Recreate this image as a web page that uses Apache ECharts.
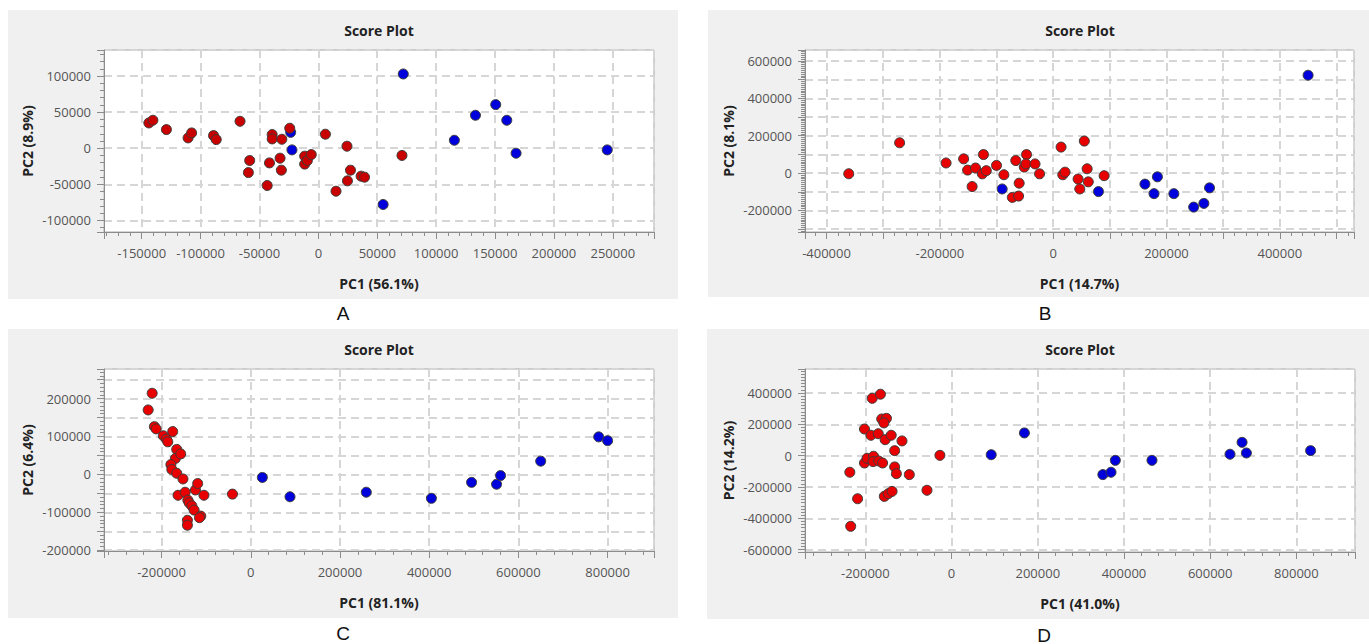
<!DOCTYPE html>
<html>
<head>
<meta charset="utf-8">
<script src="https://cdn.jsdelivr.net/npm/echarts@6/dist/echarts.min.js"></script>
<style>
  html, body { margin: 0; padding: 0; background: #ffffff; }
  #chart { width: 1369px; height: 644px; }
</style>
</head>
<body>
<div id="chart"></div>
<script>
// ---- text ----
const panelLetters = ['A', 'B', 'C', 'D'];
const plotTitle = 'Score Plot';
const pc1Names = ['PC1 (56.1%)', 'PC1 (14.7%)', 'PC1 (81.1%)', 'PC1 (41.0%)'];
const pc2Names = ['PC2 (8.9%)', 'PC2 (8.1%)', 'PC2 (6.4%)', 'PC2 (14.2%)'];

// ---- scores [PC1, PC2] ----
const scoresA_red = [
  [-143900, 35000], [-140500, 38700], [-129000, 25800], [-110600, 14300], [-107600, 21200],
  [-89000, 17500], [-86700, 12000], [-66500, 37300], [-58300, -17000], [-59400, -33700],
  [-43400, -51600], [-41500, -20300], [-39200, 18900], [-39200, 12900], [-32500, -13800],
  [-31400, -30400], [-31000, 12400], [-24300, 27700], [-11600, -11000], [-11600, -22000],
  [-9300, -17000], [-6000, -8800], [6000, 19400], [24300, 2800], [15000, -59500],
  [24700, -45200], [27300, -30400], [36300, -38700], [39200, -40100], [71000, -10000]
];
const scoresA_blue = [
  [-23500, 22000], [-22400, -2300], [72100, 102800], [55000, -77900], [115500, 11000],
  [133400, 45600], [150600, 60400], [160000, 38700], [167900, -6900], [245300, -2300]
];

const scoresB_red = [
  [-360800, -3600], [-271000, 162000], [-189000, 54000], [-158000, 76000], [-151000, 16000],
  [-137000, 27000], [-143000, -72000], [-123000, 99000], [-125000, -4000], [-118000, 13000],
  [-100000, 41000], [-87000, -9000], [-66000, 67000], [-72000, -130000], [-61000, -123000],
  [-60000, -54000], [-47000, 99000], [-51000, 32000], [-48000, 49000], [-32000, 49000],
  [-24000, -4000], [14000, 139000], [55000, 171000], [17000, -9000], [21000, 5000],
  [44000, -32000], [47000, -85000], [60000, 23000], [62000, -47000], [90000, -14000]
];
const scoresB_blue = [
  [-90000, -85000], [80000, -99000], [162000, -59000], [178000, -110000], [184000, -20000],
  [213000, -110000], [248000, -182000], [266000, -162000], [276000, -79000], [450000, 523000]
];

const scoresC_red = [
  [-221000, 214000], [-230000, 170000], [-216000, 126000], [-212000, 120000], [-196000, 102000],
  [-189000, 93000], [-186000, 86000], [-175000, 113000], [-166000, 66000], [-169000, 42000],
  [-157000, 54000], [-179000, 26000], [-177000, 13000], [-166000, 3000], [-152000, -12000],
  [-163000, -55000], [-147000, -47000], [-141000, -68000], [-138000, -75000], [-132000, -83000],
  [-127000, -94000], [-124000, -41000], [-119000, -24000], [-112000, -110000], [-115000, -114000],
  [-142000, -121000], [-142000, -134000], [-105000, -55000], [-41000, -52000]
];
const scoresC_blue = [
  [26000, -8000], [88000, -59000], [259000, -47000], [405000, -63000], [495000, -21000],
  [551000, -26000], [560000, -3000], [650000, 35000], [780000, 99000], [800000, 89000]
];

const scoresD_red = [
  [-236000, -106000], [-234000, -451000], [-218000, -275000], [-202000, 170000], [-187000, 130000],
  [-184000, 366000], [-165000, 392000], [-170000, 140000], [-162000, 234000], [-151000, 238000],
  [-157000, 209000], [-154000, 102000], [-140000, 130000], [-115000, 94000], [-132000, 32000],
  [-202000, -47000], [-196000, -17000], [-181000, -4000], [-182000, -38000], [-169000, -34000],
  [-160000, -47000], [-132000, -72000], [-128000, -115000], [-98000, -121000], [-156000, -260000],
  [-147000, -243000], [-138000, -228000], [-57000, -221000], [-27000, 2000]
];
const scoresD_blue = [
  [92000, 6000], [169000, 145000], [351000, -121000], [370000, -106000], [380000, -30000],
  [465000, -30000], [646000, 9000], [674000, 85000], [684000, 17000], [833000, 32000]
];

// ---- axis scales ----
const xExtents = [[-182000, 285000], [-438000, 531000], [-329000, 904000], [-340000, 936000]];
const yExtents = [[-116000, 136000], [-315000, 658000], [-202000, 278000], [-615000, 553000]];
const xGridSteps = [50000, 100000, 200000, 200000];
const yGridSteps = [50000, 100000, 50000, 200000];
const xLabelSteps = [50000, 200000, 200000, 200000];
const yLabelSteps = [50000, 200000, 100000, 200000];
const xMinorSplits = [5, 5, 5, 5];
const yMinorSplits = [5, 10, 5, 10];

const redSets = [scoresA_red, scoresB_red, scoresC_red, scoresD_red];
const blueSets = [scoresA_blue, scoresB_blue, scoresC_blue, scoresD_blue];

// ---- panel layout ----
const panels = [
  { bg: [8, 10, 670, 289],   grid: [104, 50, 550, 182],  title: [379, 30],   letter: [343, 313] },
  { bg: [708, 10, 661, 287], grid: [805, 50, 549, 182],  title: [1080, 30],  letter: [1045, 313] },
  { bg: [8, 329, 670, 289],  grid: [104, 369, 550, 182], title: [379, 349],  letter: [343, 633] },
  { bg: [707, 329, 662, 290],grid: [805, 369, 550, 183], title: [1080, 349], letter: [1044, 635] }
];
const redColors = ['#c80000', '#e80000', '#e80000', '#e80000'];
const blueColor = '#0000dc';

const axisGray = '#8c8c8c';
const labelFont = '"Open Sans", "Noto Sans", sans-serif';

function stepFormatter(step) {
  return function (v) {
    const r = Math.abs(Math.round(v) % step);
    return r === 0 ? String(Math.round(v)) : '';
  };
}

function valueAxis(i, extent, gridStep, labelStep, minorSplit, isX) {
  return {
    type: 'value',
    gridIndex: i,
    min: extent[0],
    max: extent[1],
    splitNumber: Math.round((extent[1] - extent[0]) / gridStep),
    minInterval: gridStep,
    maxInterval: gridStep,
    name: isX ? pc1Names[i] : pc2Names[i],
    nameLocation: 'middle',
    nameGap: isX ? 44 : 70,
    nameTextStyle: { color: '#222', fontWeight: 'bold', fontSize: 14, fontFamily: labelFont },
    axisLine: { show: true, onZero: false, lineStyle: { color: axisGray, width: 1 } },
    axisTick: { show: true, inside: false, length: 7, lineStyle: { color: axisGray, width: 1 } },
    minorTick: { show: true, splitNumber: minorSplit, length: 4, lineStyle: { color: axisGray, width: 1 } },
    splitLine: { show: true, lineStyle: { color: '#d6d6d6', width: 2, type: [8, 5] } },
    minorSplitLine: { show: false },
    axisLabel: {
      show: true, color: '#555', fontSize: 13, fontFamily: labelFont,
      margin: isX ? 14 : 13, formatter: stepFormatter(labelStep),
      showMinLabel: true, showMaxLabel: true
    }
  };
}

const grids = [], xAxes = [], yAxes = [], series = [], graphics = [];
panels.forEach(function (p, i) {
  graphics.push({
    type: 'rect', z: -10, silent: true,
    shape: { x: p.bg[0], y: p.bg[1], width: p.bg[2], height: p.bg[3] },
    style: { fill: '#f0f0f0' }
  });
  graphics.push({
    type: 'text', silent: true,
    style: {
      x: p.title[0], y: p.title[1], text: plotTitle, fill: '#222',
      font: 'bold 14px ' + labelFont, textAlign: 'center', textVerticalAlign: 'middle'
    }
  });
  graphics.push({
    type: 'text', silent: true,
    style: {
      x: p.letter[0], y: p.letter[1], text: panelLetters[i], fill: '#111',
      font: '19px "Liberation Sans", Arial, sans-serif', textAlign: 'center', textVerticalAlign: 'middle'
    }
  });
  grids.push({
    left: p.grid[0], top: p.grid[1], width: p.grid[2], height: p.grid[3],
    show: true, backgroundColor: '#ffffff', borderColor: '#a6a6a6', borderWidth: 1,
    containLabel: false
  });
  xAxes.push(valueAxis(i, xExtents[i], xGridSteps[i], xLabelSteps[i], xMinorSplits[i], true));
  yAxes.push(valueAxis(i, yExtents[i], yGridSteps[i], yLabelSteps[i], yMinorSplits[i], false));
  series.push({
    type: 'scatter', xAxisIndex: i, yAxisIndex: i, data: blueSets[i],
    symbol: 'circle', symbolSize: 10,
    itemStyle: { color: blueColor, opacity: 1, borderColor: '#3c3c3c', borderWidth: 1 },
    emphasis: { disabled: true }
  });
  series.push({
    type: 'scatter', xAxisIndex: i, yAxisIndex: i, data: redSets[i],
    symbol: 'circle', symbolSize: 10,
    itemStyle: { color: redColors[i], opacity: 1, borderColor: '#3c3c3c', borderWidth: 1 },
    emphasis: { disabled: true }
  });
});

const chart = echarts.init(document.getElementById('chart'), null, { renderer: 'svg' });
chart.setOption({
  animation: false,
  backgroundColor: '#ffffff',
  graphic: graphics,
  grid: grids,
  xAxis: xAxes,
  yAxis: yAxes,
  series: series
});
</script>
</body>
</html>
